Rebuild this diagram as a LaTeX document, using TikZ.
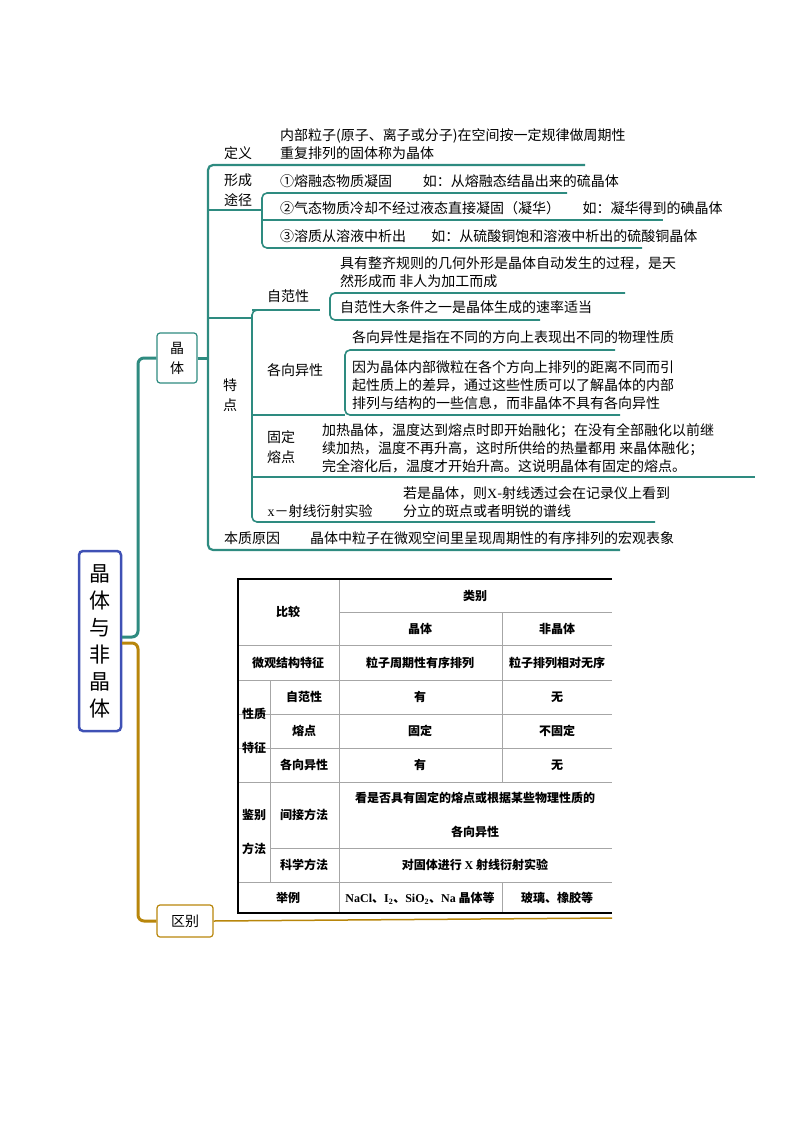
\documentclass[tikz,border=0pt]{standalone}
\usepackage{fontspec}
\setmainfont{Noto Sans CJK SC}
\newfontfamily\serifc{Liberation Serif}
\definecolor{teal1}{HTML}{2E8B80}
\definecolor{gold1}{HTML}{B8860B}
\definecolor{blue1}{HTML}{3F51B5}
\begin{document}
\begin{tikzpicture}[x=1pt,y=-1pt,
  txt/.style={anchor=west,inner sep=0pt,font=\fontsize{14}{18}\selectfont,align=left},
  lab/.style={anchor=center,inner sep=0pt,font=\fontsize{14}{20}\selectfont,align=center},
  tl/.style={teal1,line width=1.6pt,rounded corners=5pt},
  tt/.style={teal1,line width=3pt,rounded corners=6pt},
  gl/.style={gold1,line width=3pt,rounded corners=6pt},
  cell/.style={inner sep=0pt,font=\fontsize{12}{22}\selectfont\bfseries,align=center},
  gridl/.style={gray!70,line width=0.6pt},
  blk/.style={black,line width=1.6pt}]
\useasboundingbox (0,0) rectangle (794,1123);
% root
\node[draw=blue1,line width=2.5pt,rounded corners=4pt,minimum width=42pt,minimum height=180pt,inner sep=0pt,font=\fontsize{21}{27}\selectfont,align=center] (root) at (100,641) {晶\\体\\与\\非\\晶\\体};
\node[draw=teal1,line width=1.2pt,rounded corners=3pt,minimum width=40pt,minimum height=50pt,lab] (jt) at (177,358) {晶\\体};
\node[draw=gold1,line width=1.2pt,rounded corners=3pt,minimum width=56pt,minimum height=32pt,lab] (qb) at (185,921) {区别};
% trunks from root
\coordinate (r1) at (122,637);
\coordinate (r2) at (122,643);
\draw[tt] (r1) -- (138,637) -- (138,358) -- (jt.west);
\draw[gl] (r2) -- (138,643) -- (138,921) -- (qb.west);
\draw[gold1,line width=1.5pt] (qb.east) -- (612,918);
% main teal trunk
\coordinate (t0) at (208,358);
\draw[tt] (jt.east) -- (t0);
\draw[tl,line width=2.2pt] (585,165) -- (208,165) -- (208,550) -- (620,550);
% definition
\node[lab] (dy) at (238,153) {定义};
\node[txt] (dyt) at (280,144) {内部粒子(原子、离子或分子)在空间按一定规律做周期性\\重复排列的固体称为晶体};
% formation
\node[lab] (xc) at (238,190) {形成\\途径};
\draw[tl] (208,210) -- (262,210);
\draw[tl] (567,193) -- (262,193) -- (262,248) -- (642,248);
\draw[tl] (262,220) -- (663,220);
\node[txt] (f1) at (280,181) {①熔融态物质凝固\hspace{2.2em}如：从熔融态结晶出来的硫晶体};
\node[txt] (f2) at (280,208) {②气态物质冷却不经过液态直接凝固（凝华）\hspace{1.6em}如：凝华得到的碘晶体};
\node[txt] (f3) at (280,236) {③溶质从溶液中析出\hspace{1.8em}如：从硫酸铜饱和溶液中析出的硫酸铜晶体};
% features
\node[lab] (td) at (230,395) {特\\点};
\draw[tl] (208,318) -- (252,318);
\draw[tl] (290,310) -- (252,310) -- (252,522) -- (655,522);
\draw[tl] (252,415) -- (345,415);
\draw[tl] (252,477) -- (755,477);
% 自范性
\node[lab] (zf) at (288,296) {自范性};
\draw[tl] (252,310) -- (320,310);
\draw[tl] (625,293) -- (330,293) -- (330,320) -- (540,320);
\node[txt] (zf1) at (340,272) {具有整齐规则的几何外形是晶体自动发生的过程，是天\\然形成而 非人为加工而成};
\node[txt] (zf2) at (340,307) {自范性大条件之一是晶体生成的速率适当};
% 各向异性
\node[lab] (gx) at (295,370) {各向异性};
\draw[tl] (620,415) -- (345,415) -- (345,350) -- (615,350);
\node[txt] (gx1) at (352,337) {各向异性是指在不同的方向上表现出不同的物理性质};
\node[txt] (gx2) at (352,385) {因为晶体内部微粒在各个方向上排列的距离不同而引\\起性质上的差异，通过这些性质可以了解晶体的内部\\排列与结构的一些信息，而非晶体不具有各向异性};
% 固定熔点
\node[lab] (gd) at (281,447) {固定\\熔点};
\node[txt] (gd1) at (322,448) {加热晶体，温度达到熔点时即开始融化；在没有全部融化以前继\\续加热，温度不再升高，这时所供给的热量都用 来晶体融化；\\完全溶化后，温度才开始升高。这说明晶体有固定的熔点。};
% X-ray
\node[lab] (xs) at (320,511) {{\serifc x}－射线衍射实验};
\node[txt] (xs1) at (403,502) {若是晶体，则{\serifc X}-射线透过会在记录仪上看到\\分立的斑点或者明锐的谱线};
% essence
\node[lab] (bz) at (252,538) {本质原因};
\node[txt] (bz1) at (310,538) {晶体中粒子在微观空间里呈现周期性的有序排列的宏观表象};
% table
\foreach \y in {645,680,714,748,782,882} \draw[gridl] (238,\y) -- (612,\y);
\draw[gridl] (339,612) -- (612,612);
\draw[gridl] (270,714) -- (612,714);
\draw[gridl] (270,748) -- (612,748);
\draw[gridl] (270,848) -- (612,848);
\draw[gridl] (270,680) -- (270,882);
\draw[gridl] (339,579) -- (339,913);
\draw[gridl] (502,612) -- (502,782);
\draw[gridl] (502,882) -- (502,913);
\draw[blk] (612,579) -- (238,579) -- (238,913) -- (612,913);
\node[cell] (c1) at (288,612) {比较};
\node[cell] (c2) at (475,596) {类别};
\node[cell] (c3) at (420,629) {晶体};
\node[cell] (c4) at (557,629) {非晶体};
\node[cell] (c5) at (288,663) {微观结构特征};
\node[cell] (c6) at (420,663) {粒子周期性有序排列};
\node[cell] (c7) at (557,663) {粒子排列相对无序};
\node[cell,font=\fontsize{12}{34}\selectfont\bfseries] (c8) at (254,731) {性质\\特征};
\node[cell] (c9) at (304,697) {自范性};
\node[cell] (c10) at (420,697) {有};
\node[cell] (c11) at (557,697) {无};
\node[cell] (c12) at (304,731) {熔点};
\node[cell] (c13) at (420,731) {固定};
\node[cell] (c14) at (557,731) {不固定};
\node[cell] (c15) at (304,765) {各向异性};
\node[cell] (c16) at (420,765) {有};
\node[cell] (c17) at (557,765) {无};
\node[cell,font=\fontsize{12}{34}\selectfont\bfseries] (c18) at (254,832) {鉴别\\方法};
\node[cell] (c19) at (304,815) {间接方法};
\node[cell,font=\fontsize{12}{34}\selectfont\bfseries] (c20) at (475,815) {看是否具有固定的熔点或根据某些物理性质的\\各向异性};
\node[cell] (c21) at (304,865) {科学方法};
\node[cell] (c22) at (475,865) {对固体进行 {\serifc X} 射线衍射实验};
\node[cell] (c23) at (288,898) {举例};
\node[cell] (c24) at (420,898) {{\serifc NaCl}、{\serifc I}\textsubscript{\serifc 2}、{\serifc SiO}\textsubscript{\serifc 2}、{\serifc Na} 晶体等};
\node[cell] (c25) at (557,898) {玻璃、橡胶等};
\end{tikzpicture}
\end{document}
